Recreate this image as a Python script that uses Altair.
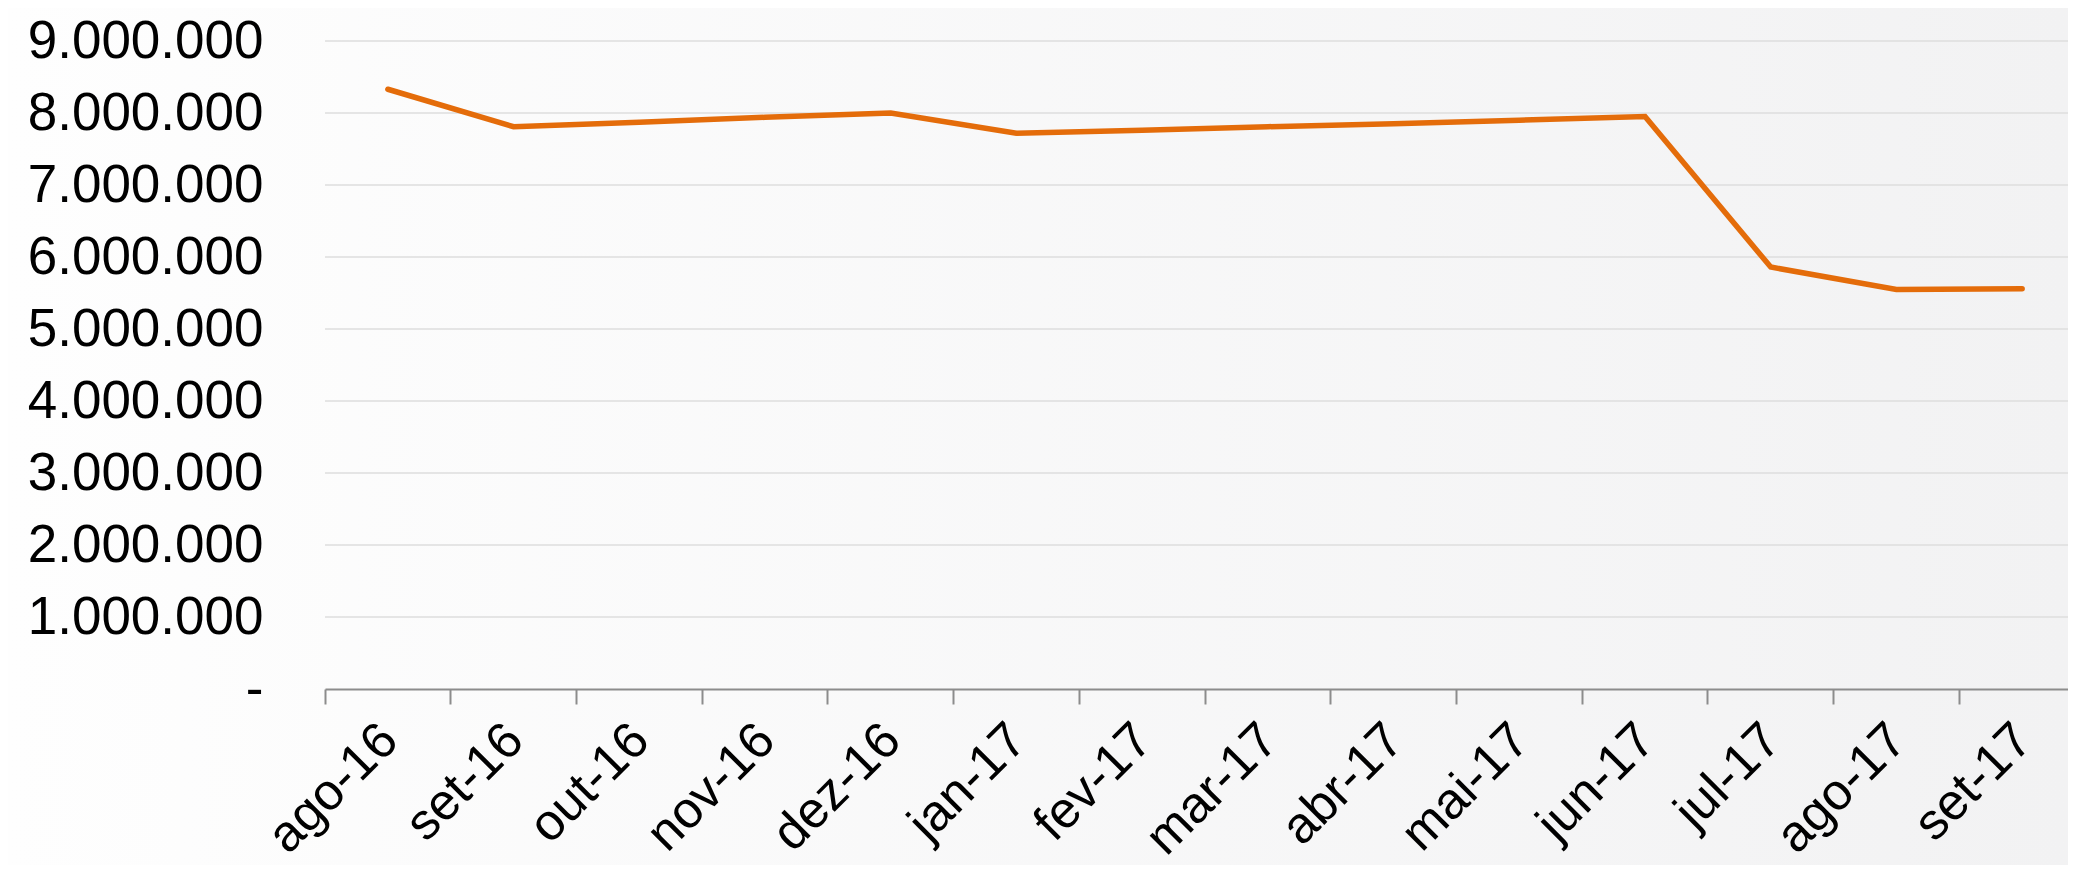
import altair as alt
import pandas as pd

months = ["ago-16", "set-16", "out-16", "nov-16", "dez-16", "jan-17", "fev-17",
          "mar-17", "abr-17", "mai-17", "jun-17", "jul-17", "ago-17", "set-17"]
values = [8330000, 7810000, 7870000, 7940000, 8000000, 7720000, 7760000,
          7810000, 7850000, 7900000, 7950000, 5860000, 5550000, 5560000]
y_ticks = [0, 1000000, 2000000, 3000000, 4000000, 5000000, 6000000,
           7000000, 8000000, 9000000]

W = 1740
H = 648
PAD = {"left": 317, "top": 33, "right": 3, "bottom": 176}

df = pd.DataFrame({"mes": months, "valor": values})
grid_df = pd.DataFrame({"v": y_ticks[1:]})

yscale = alt.Scale(domain=[0, 9000000], nice=False, zero=True)
yaxis = alt.Axis(
    title=None, values=y_ticks, grid=False, domain=False, ticks=False,
    zindex=1, labelLimit=0,
    labelFontSize=53, labelFont="Liberation Sans", labelColor="#000000",
    labelPadding=62,
    labelExpr="datum.value == 0 ? '-' : replace(format(datum.value, ','), /,/g, '.')",
)

bg = alt.Chart(alt.Data(values=[{}])).mark_rect(
    fill=alt.Gradient(
        gradient="linear",
        stops=[alt.GradientStop(offset=0, color="#fefefe"),
               alt.GradientStop(offset=1, color="#f2f2f3")],
        x1=0, x2=1, y1=0, y2=0,
    )
).encode(
    x=alt.value(-PAD["left"]), x2=alt.value(W + PAD["right"]),
    y=alt.value(-PAD["top"]), y2=alt.value(H + PAD["bottom"]),
)

grid = alt.Chart(grid_df).mark_rule(color="#dedede", strokeWidth=1.5).encode(
    y=alt.Y("v:Q", scale=yscale, axis=yaxis),
    x=alt.value(0),
    x2=alt.value(W + PAD["right"]),
)

line = alt.Chart(df).mark_line(color="#E46C0A", strokeWidth=5.5, strokeCap="round").encode(
    x=alt.X(
        "mes:N", sort=months,
        scale=alt.Scale(type="band", paddingInner=0, paddingOuter=0, range=[0, 1760]),
        axis=alt.Axis(
            title=None, bandPosition=0, grid=False, zindex=1, labelLimit=0,
            domainColor="#8c8c8c", domainWidth=2,
            tickColor="#8c8c8c", tickWidth=2, tickSize=15,
            labelAngle=-45, labelAlign="right", labelBaseline="middle",
            labelFontSize=51, labelFont="Liberation Sans", labelColor="#000000",
            labelPadding=28, labelOffset=2,
        ),
    ),
    y=alt.Y("valor:Q", scale=yscale, axis=yaxis),
)

chart = alt.layer(bg, grid, line).properties(
    width=W, height=H,
    padding=PAD,
    autosize=alt.AutoSizeParams(type="none"),
    background="#fbfbfb",
).configure_view(stroke=None)

chart.save("out.html", embed_options={"renderer": "svg", "actions": False})
